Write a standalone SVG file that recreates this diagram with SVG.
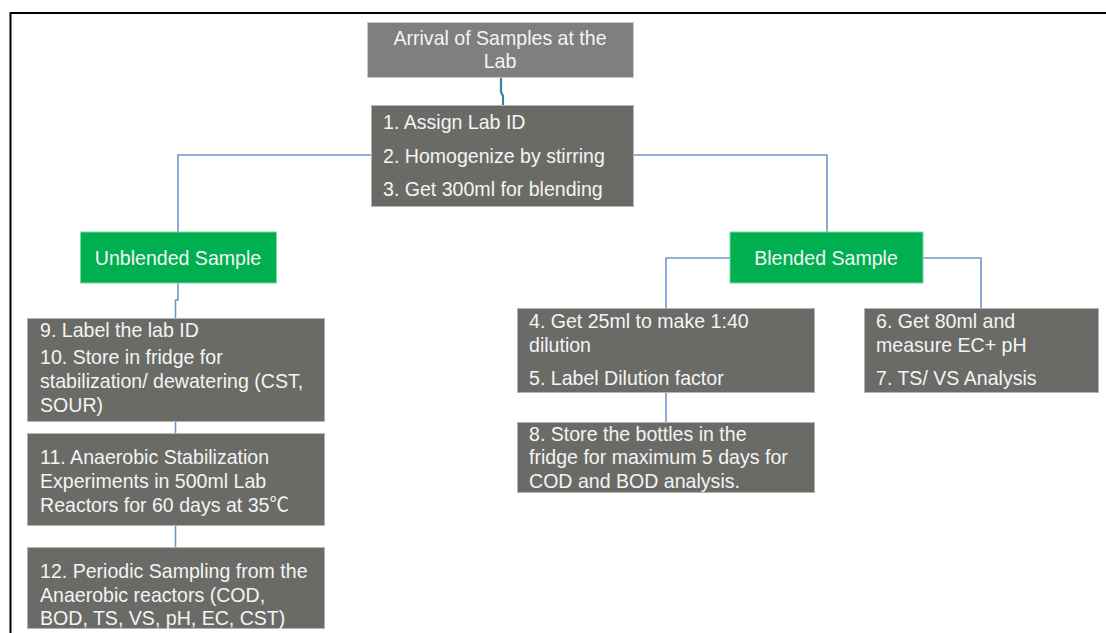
<svg xmlns="http://www.w3.org/2000/svg" width="1106" height="633" viewBox="0 0 1106 633">
<style>
.bg{fill:#ffffff}
.frame{stroke:#000;stroke-width:2;fill:none}
.box{fill:#6a6b67;stroke:#b4b4b4;stroke-width:1}
.top{fill:#7f7f7f;stroke:#c8c8c8;stroke-width:1}
.grn{fill:#00b050;stroke:#7fd6a0;stroke-width:1}
.t{font-family:"Liberation Sans",Arial,"Noto Sans CJK SC",sans-serif;font-size:20.5px;fill:#f4f4f4}
.c{text-anchor:middle}
.ln{stroke:#6f96cc;stroke-width:1.6;fill:none}
.teal{stroke:#31859c;stroke-width:2.2;fill:none}
</style>
<rect class="bg" x="0" y="0" width="1106" height="633"/>
<path class="frame" d="M1106 13 H10.5 V633"/>
<g id="connectors">
<path class="teal" d="M501 78 V92 L503 96 V105"/>
<path class="ln" d="M371 155 H178 V232"/>
<path class="ln" d="M633 155 H827 V232"/>
<path class="ln" d="M178 283 V300 H175.5 V318"/>
<path class="ln" d="M175.5 421 V433"/>
<path class="ln" d="M175.5 526 V547"/>
<path class="ln" d="M730 258 H666 V308"/>
<path class="ln" d="M666 392 V422"/>
<path class="ln" d="M923 258 H981 V308"/>
</g>
<g id="arrival">
<rect class="top" x="367.5" y="22.5" width="266" height="55"/>
<text class="t c" transform="translate(500 0) scale(0.955 1)"><tspan x="0" y="45">Arrival of Samples at the</tspan><tspan x="0" y="68">Lab</tspan></text>
</g>
<g id="steps123">
<rect class="box" x="371.5" y="105.5" width="262" height="101"/>
<text class="t" transform="translate(383 0) scale(0.955 1)"><tspan x="0" y="129">1. Assign Lab ID</tspan><tspan x="0" y="163">2. Homogenize by stirring</tspan><tspan x="0" y="196">3. Get 300ml for blending</tspan></text>
</g>
<g id="unblended">
<rect class="grn" x="80.5" y="232" width="196" height="51"/>
<text class="t c" transform="translate(178 0) scale(0.955 1)"><tspan x="0" y="265">Unblended Sample</tspan></text>
</g>
<g id="blended">
<rect class="grn" x="730" y="232" width="193" height="51"/>
<text class="t c" transform="translate(826 0) scale(0.955 1)"><tspan x="0" y="265">Blended Sample</tspan></text>
</g>
<g id="steps9-10">
<rect class="box" x="27.5" y="318.5" width="297" height="103"/>
<text class="t" transform="translate(40 0) scale(0.955 1)"><tspan x="0" y="337">9. Label the lab ID</tspan><tspan x="0" y="364">10. Store in fridge for</tspan><tspan x="0" y="388">stabilization/ dewatering (CST,</tspan><tspan x="0" y="412">SOUR)</tspan></text>
</g>
<g id="step11">
<rect class="box" x="27.5" y="433.5" width="297" height="92"/>
<text class="t" transform="translate(40 0) scale(0.955 1)"><tspan x="0" y="464">11. Anaerobic Stabilization</tspan><tspan x="0" y="488">Experiments in 500ml Lab</tspan><tspan x="0" y="512">Reactors for 60 days at 35℃</tspan></text>
</g>
<g id="step12">
<rect class="box" x="27.5" y="547.5" width="297" height="81"/>
<text class="t" transform="translate(40 0) scale(0.955 1)"><tspan x="0" y="578">12. Periodic Sampling from the</tspan><tspan x="0" y="602">Anaerobic reactors (COD,</tspan><tspan x="0" y="625">BOD, TS, VS, pH, EC, CST)</tspan></text>
</g>
<g id="steps4-5">
<rect class="box" x="517.5" y="308.5" width="297" height="84"/>
<text class="t" transform="translate(529 0) scale(0.955 1)"><tspan x="0" y="328">4. Get 25ml to make 1:40</tspan><tspan x="0" y="352">dilution</tspan><tspan x="0" y="385">5. Label Dilution factor</tspan></text>
</g>
<g id="step8">
<rect class="box" x="517.5" y="422.5" width="297" height="70"/>
<text class="t" transform="translate(529 0) scale(0.955 1)"><tspan x="0" y="441">8. Store the bottles in the</tspan><tspan x="0" y="464">fridge for maximum 5 days for</tspan><tspan x="0" y="488">COD and BOD analysis.</tspan></text>
</g>
<g id="steps6-7">
<rect class="box" x="864.5" y="308.5" width="234" height="84"/>
<text class="t" transform="translate(876 0) scale(0.955 1)"><tspan x="0" y="328">6. Get 80ml and</tspan><tspan x="0" y="352">measure EC+ pH</tspan><tspan x="0" y="385">7. TS/ VS Analysis</tspan></text>
</g>
</svg>
